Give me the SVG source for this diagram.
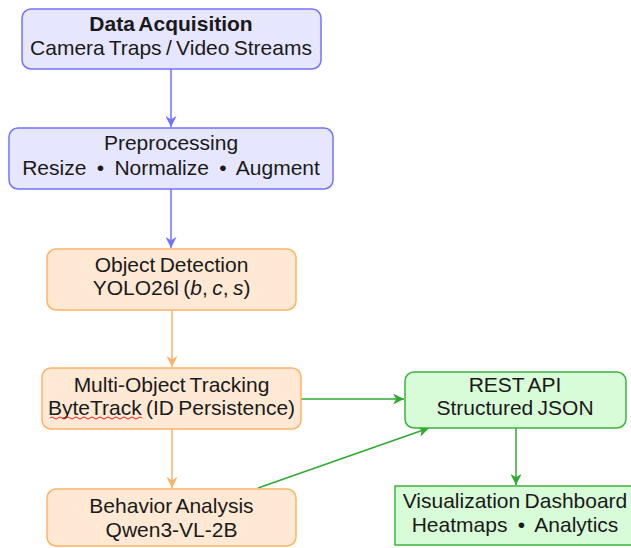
<svg xmlns="http://www.w3.org/2000/svg" width="631" height="548" viewBox="0 0 631 548">
<style>
text{font-family:"Liberation Sans",Arial,sans-serif;font-size:21px;fill:#1a1a1a;text-anchor:middle;word-spacing:-1.5px}
.b{font-weight:bold}
.blue{fill:#e6e6ff;stroke:#7373ff;stroke-width:1.5}
.orange{fill:#ffe8d4;stroke:#ffb366;stroke-width:1.5}
.green{fill:#d8fbd8;stroke:#3cb33c;stroke-width:1.5}
.cb{stroke:#7373ff;stroke-width:1.5;fill:none}
.co{stroke:#ffb366;stroke-width:1.5;fill:none}
.cg{stroke:#2eaa2e;stroke-width:1.5;fill:none}
</style>
<defs>
<marker id="ab" viewBox="0 0 10 10" refX="10" refY="5" markerWidth="11" markerHeight="11" markerUnits="userSpaceOnUse" orient="auto"><path d="M0,0 L10,5 L0,10 L3,5 Z" fill="#7373ff"/></marker>
<marker id="ao" viewBox="0 0 10 10" refX="10" refY="5" markerWidth="11" markerHeight="11" markerUnits="userSpaceOnUse" orient="auto"><path d="M0,0 L10,5 L0,10 L3,5 Z" fill="#ffb366"/></marker>
<marker id="ag" viewBox="0 0 10 10" refX="10" refY="5" markerWidth="11" markerHeight="11" markerUnits="userSpaceOnUse" orient="auto"><path d="M0,0 L10,5 L0,10 L3,5 Z" fill="#2eaa2e"/></marker>
</defs>
<g id="connectors">
<line class="cb" x1="171" y1="69" x2="171" y2="127" marker-end="url(#ab)"/>
<line class="cb" x1="171" y1="189" x2="171" y2="248" marker-end="url(#ab)"/>
<line class="co" x1="172" y1="310" x2="172" y2="367" marker-end="url(#ao)"/>
<line class="co" x1="172" y1="429" x2="172" y2="488" marker-end="url(#ao)"/>
<line class="cg" x1="301" y1="399" x2="404" y2="399" marker-end="url(#ag)"/>
<line class="cg" x1="258" y1="488" x2="429" y2="428" marker-end="url(#ag)"/>
<line class="cg" x1="516" y1="428" x2="516" y2="485" marker-end="url(#ag)"/>
</g>
<g id="data-acquisition">
<rect class="blue" x="22" y="9" width="299" height="60" rx="9"/>
<text class="b" x="171" y="31">Data Acquisition</text>
<text x="171" y="55">Camera Traps / Video Streams</text>
</g>
<g id="preprocessing">
<rect class="blue" x="9" y="128" width="324" height="61" rx="9"/>
<text x="171" y="150">Preprocessing</text>
<text x="171" y="175">Resize<tspan dx="6"> •</tspan><tspan dx="6"> Normalize</tspan><tspan dx="6"> •</tspan><tspan dx="6"> Augment</tspan></text>
</g>
<g id="object-detection">
<rect class="orange" x="47" y="249" width="249" height="61" rx="9"/>
<text x="171.5" y="272">Object Detection</text>
<text x="171.5" y="295">YOLO26l (<tspan font-style="italic">b</tspan>, <tspan font-style="italic">c</tspan>, <tspan font-style="italic">s</tspan>)</text>
</g>
<g id="tracking">
<rect class="orange" x="42" y="368" width="259" height="61" rx="9"/>
<text x="171.5" y="392">Multi-Object Tracking</text>
<text x="171.5" y="415">ByteTrack (ID Persistence)</text>
<path d="M50,418 q2,-2 4,0 t4,0 t4,0 t4,0 t4,0 t4,0 t4,0 t4,0 t4,0 t4,0 t4,0 t4,0 t4,0 t4,0 t4,0 t4,0 t4,0 t4,0 t4,0 t4,0 t4,0 t4,0 t4,0" fill="none" stroke="#e02020" stroke-width="1"/>
</g>
<g id="behavior-analysis">
<rect class="orange" x="47" y="489" width="249" height="57" rx="9"/>
<text x="171.5" y="513">Behavior Analysis</text>
<text x="171.5" y="537">Qwen3-VL-2B</text>
</g>
<g id="rest-api">
<rect class="green" x="405" y="372" width="221" height="56" rx="9"/>
<text x="515" y="392">REST API</text>
<text x="515" y="415">Structured JSON</text>
</g>
<g id="dashboard">
<rect class="green" x="395" y="486" width="240" height="59"/>
<text x="515" y="508">Visualization Dashboard</text>
<text x="515" y="532">Heatmaps<tspan dx="6"> •</tspan><tspan dx="6"> Analytics</tspan></text>
</g>
</svg>
